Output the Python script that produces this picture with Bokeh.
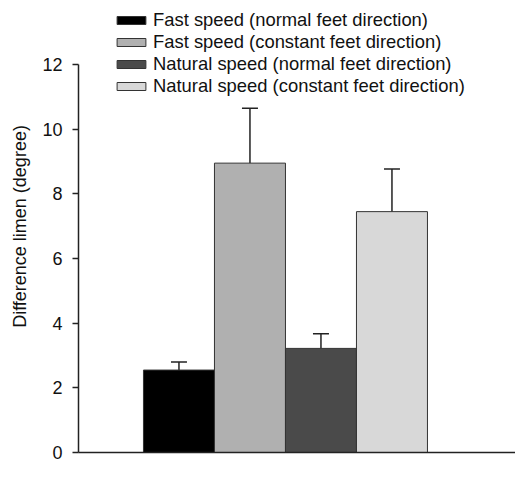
from bokeh.plotting import figure
from bokeh.models import ColumnDataSource, Whisker, TeeHead, Legend, LegendItem, Range1d
from bokeh.embed import file_html
from bokeh.resources import INLINE

labels = ["Fast speed (normal feet direction)",
          "Fast speed (constant feet direction)",
          "Natural speed (normal feet direction)",
          "Natural speed (constant feet direction)"]
values = [2.55, 8.95, 3.22, 7.45]
errors = [0.25, 1.70, 0.45, 1.32]
colors = ["#000000", "#b0b0b0", "#4a4a4a", "#d8d8d8"]
positions = [1, 2, 3, 4]
y_ticks = [0, 2, 4, 6, 8, 10, 12]

src = ColumnDataSource(dict(
    x=positions, value=values,
    upper=[v + e for v, e in zip(values, errors)],
    color=colors, label=labels))

p = figure(width=515, height=464, output_backend="svg", toolbar_location=None,
           x_range=Range1d(-0.415, 5.74), y_range=Range1d(0, 13.98),
           min_border_left=78, min_border_right=0, min_border_top=0, min_border_bottom=12)
p.outline_line_color = None
p.xgrid.visible = False
p.ygrid.visible = False

r = p.vbar(x="x", top="value", bottom=0, width=1.0, source=src,
           fill_color="color", line_color="#333333", line_width=1)

w = Whisker(base="x", upper="upper", lower="value", source=src,
            upper_head=TeeHead(size=16, line_width=1.5, line_color="#222222"),
            lower_head=None, line_width=1.5, line_color="#222222")
p.add_layout(w)

items = [LegendItem(label=labels[i], renderers=[r], index=i) for i in range(len(labels))]
legend = Legend(items=items, location=(35, 355), padding=0, margin=0, spacing=0,
                label_height=22, glyph_height=10, glyph_width=36, label_standoff=4,
                border_line_color=None, background_fill_alpha=0,
                label_text_font="Liberation Sans", label_text_font_size="18.4px",
                label_text_color="#111111")
p.add_layout(legend)

ya = p.yaxis[0]
ya.ticker = y_ticks
ya.bounds = (0, 12)
ya.axis_label = "Difference limen (degree)"
ya.axis_label_text_font = "Liberation Sans"
ya.axis_label_text_font_size = "18px"
ya.axis_label_text_font_style = "normal"
ya.axis_label_standoff = 9
ya.major_label_text_font = "Liberation Sans"
ya.major_label_text_font_size = "18px"
ya.major_label_standoff = 10
ya.major_tick_out = 6
ya.major_tick_in = 0
ya.minor_tick_out = 0
ya.minor_tick_in = 0
ya.axis_line_width = 1.5
ya.major_tick_line_width = 1.5
ya.axis_line_color = "#222222"
ya.major_tick_line_color = "#222222"
ya.major_label_text_color = "#111111"
ya.axis_label_text_color = "#111111"

xa = p.xaxis[0]
xa.ticker = []
xa.major_label_text_font_size = "0px"
xa.major_tick_out = 0
xa.major_tick_in = 0
xa.minor_tick_out = 0
xa.minor_tick_in = 0
xa.axis_line_width = 1.5
xa.axis_line_color = "#222222"

open("out.html", "w").write(file_html(p, INLINE))
